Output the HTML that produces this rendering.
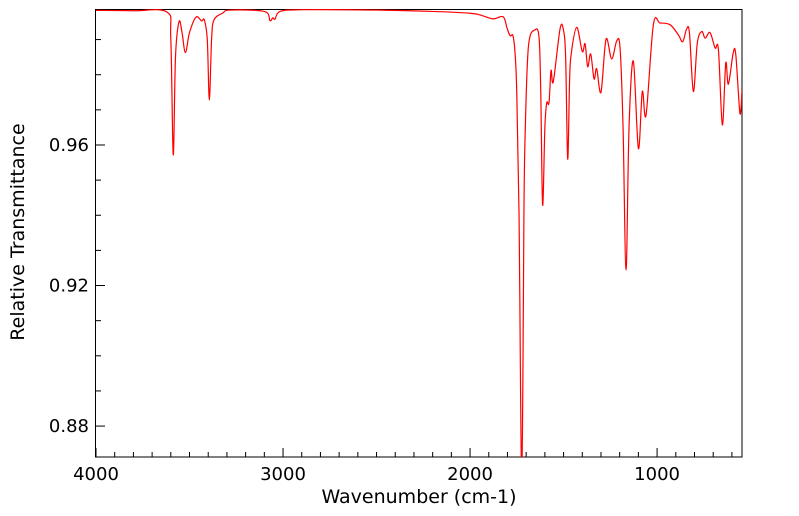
<!DOCTYPE html>
<html><head><meta charset="utf-8"><style>
html,body{margin:0;padding:0;background:#fff;}
svg{display:block;font-family:"DejaVu Sans","Liberation Sans",sans-serif;}
</style></head><body>
<svg id="chart" width="799" height="516" viewBox="0 0 799 516" xmlns="http://www.w3.org/2000/svg">
<defs><clipPath id="plotclip"><rect x="96" y="9" width="646" height="448"/></clipPath></defs>
<rect x="95.5" y="9.5" width="646.5" height="447.5" fill="none" stroke="#000" stroke-width="1"/>
<g id="ticks"></g>
<path id="spectrum" fill="none" stroke="#ff0000" stroke-width="1.2" clip-path="url(#plotclip)"/>
<text x="419" y="503" font-size="19" text-anchor="middle">Wavenumber (cm-1)</text>
<text transform="translate(24,232) rotate(-90)" font-size="19" text-anchor="middle">Relative Transmittance</text>
</svg>
<script>
const wavenumbers = [4000,3800,3620,3600,3587,3575,3556,3540,3522,3500,3465,3435,3421,3405,3394,3382,3369,3321,3283,3100,3070,3055,3043,3016,2900,2500,2200,2000,1947,1877,1823,1802,1786,1770,1758,1750,1738,1730,1724,1718,1712,1706,1688,1652,1631,1622,1612,1600,1590,1578,1567,1555,1519,1501,1489,1478,1468,1460,1430,1400,1385,1371,1355,1337,1323,1300,1273,1243,1216,1198,1182,1166,1150,1127,1100,1079,1059,1020,984,930,886,863,842,827,806,785,761,743,717,690,672,651,633,619,593,579,557,546];
const transmittance = [0.9983,0.9982,0.9978,0.990,0.9572,0.985,0.9951,0.992,0.9863,0.992,0.9964,0.9953,0.9956,0.990,0.9728,0.990,0.9956,0.9976,0.9984,0.998,0.9954,0.9962,0.9958,0.998,0.9985,0.9984,0.998,0.9975,0.997,0.9959,0.9965,0.9932,0.9911,0.991,0.985,0.9742,0.940,0.890,0.866,0.890,0.940,0.962,0.988,0.9928,0.9905,0.975,0.9429,0.965,0.972,0.972,0.9812,0.978,0.993,0.9928,0.985,0.956,0.978,0.9856,0.9935,0.9866,0.9888,0.9823,0.9859,0.9788,0.9817,0.975,0.9901,0.9845,0.9896,0.9876,0.965,0.9244,0.965,0.9839,0.959,0.9752,0.9685,0.9942,0.9947,0.9942,0.9913,0.9894,0.993,0.9919,0.9752,0.989,0.9923,0.9904,0.992,0.9876,0.9871,0.9657,0.9833,0.9773,0.9862,0.9856,0.969,0.9757];
const xTicks = [4000,3000,2000,1000];
const yTicks = [0.88,0.92,0.96];
const xMin=4000, xMax=546, yMin=0.8712, yMax=0.9987;
const L=96,R=742,T=9,B=457;
function xs(w){return L+(xMin-w)/(xMin-xMax)*(R-L);}
function ys(v){return B-(v-yMin)/(yMax-yMin)*(B-T);}
const pts = wavenumbers.map((w,i)=>[xs(w),ys(transmittance[i])]);
let d='M'+pts[0][0].toFixed(2)+','+pts[0][1].toFixed(2);
for(let i=0;i<pts.length-1;i++){
  const p0=pts[Math.max(0,i-1)],p1=pts[i],p2=pts[i+1],p3=pts[Math.min(pts.length-1,i+2)];
  const t=0.5/3;
  const c1=[p1[0]+(p2[0]-p0[0])*t,p1[1]+(p2[1]-p0[1])*t];
  const c2=[p2[0]-(p3[0]-p1[0])*t,p2[1]-(p3[1]-p1[1])*t];
  d+=' C'+c1[0].toFixed(2)+','+c1[1].toFixed(2)+' '+c2[0].toFixed(2)+','+c2[1].toFixed(2)+' '+p2[0].toFixed(2)+','+p2[1].toFixed(2);
}
document.getElementById('spectrum').setAttribute('d',d);
const g=document.getElementById('ticks');
const NS='http://www.w3.org/2000/svg';
for(let w=4000;w>=600;w-=100){
  const major=w%1000===0;
  const x=xs(w);
  const ln=document.createElementNS(NS,'line');
  ln.setAttribute('x1',x);ln.setAttribute('x2',x);ln.setAttribute('y1',B);ln.setAttribute('y2',B-(major?9:5));
  ln.setAttribute('stroke','#000');
  
  
  g.appendChild(ln);
}
xTicks.forEach(w=>{
  const t=document.createElementNS(NS,'text');
  t.setAttribute('x',xs(w));t.setAttribute('y',B+23);t.setAttribute('font-size','18');t.setAttribute('text-anchor','middle');
  t.textContent=String(w);
  
  
  g.appendChild(t);
});
for(let k=88;k<=99;k++){
  const v=k/100, y=ys(v), major=(k-88)%4===0;
  const ln=document.createElementNS(NS,'line');
  ln.setAttribute('x1',L);ln.setAttribute('x2',L+(major?9:5));ln.setAttribute('y1',y);ln.setAttribute('y2',y);
  ln.setAttribute('stroke','#000');
  
  
  g.appendChild(ln);
}
yTicks.forEach(v=>{
  const t=document.createElementNS(NS,'text');
  t.setAttribute('x',L-7);t.setAttribute('y',ys(v)+6);t.setAttribute('font-size','18');t.setAttribute('text-anchor','end');
  t.textContent=v.toFixed(2);
  
  
  g.appendChild(t);
});
</script>
</body></html>
